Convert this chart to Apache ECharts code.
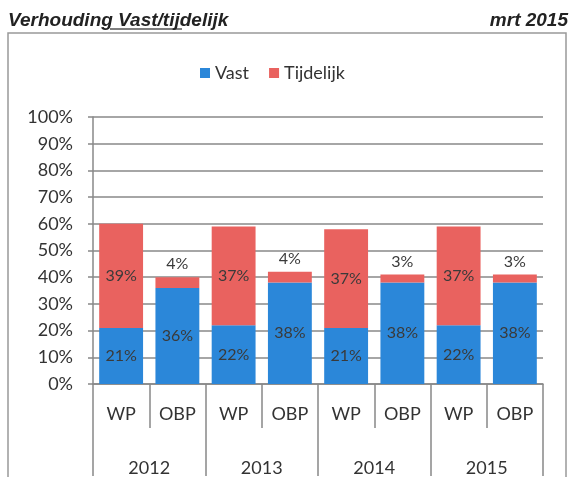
<!DOCTYPE html>
<html>
<head>
<meta charset="utf-8">
<script src="https://cdn.jsdelivr.net/npm/echarts@6/dist/echarts.min.js"></script>
<style>
  html, body { margin: 0; padding: 0; background: #fff; }
  #main { width: 571px; height: 477px; }
</style>
</head>
<body>
<div id="main"></div>
<script>
// data
var groups = ['WP', 'OBP', 'WP', 'OBP', 'WP', 'OBP', 'WP', 'OBP'];
var years = ['2012', '2013', '2014', '2015'];
var vast = [21, 36, 22, 38, 21, 38, 22, 38];
var tijdelijk = [39, 4, 37, 4, 37, 3, 37, 3];
var yTicks = [0, 10, 20, 30, 40, 50, 60, 70, 80, 90, 100];

var chart = echarts.init(document.getElementById('main'));

var font = 'Lato';
var labelStyle = {
  show: true,
  formatter: '{c}%',
  color: '#3a3a3a',
  fontFamily: font,
  fontSize: 16
};
var headStyle = {
  fontFamily: 'Liberation Sans',
  fontStyle: 'italic',
  fontWeight: 'bold',
  fontSize: 19,
  color: '#222'
};

var option = {
  backgroundColor: '#fff',
  animation: false,
  title: [{
    text: 'Verhouding Vast/tijdelijk',
    left: 3,
    top: 6,
    textStyle: headStyle
  }, {
    text: 'mrt 2015',
    right: -2,
    top: 6,
    textStyle: headStyle
  }],
  graphic: [{
    type: 'rect',
    shape: { x: 8, y: 33, width: 558, height: 460 },
    style: { fill: 'none', stroke: '#999', lineWidth: 1.5 },
    silent: true
  }, {
    type: 'line',
    shape: { x1: 110, y1: 29, x2: 182, y2: 29 },
    style: { stroke: '#555', lineWidth: 1.5 }
  }],
  legend: {
    data: ['Vast', 'Tijdelijk'],
    top: 59,
    left: 195,
    itemWidth: 10,
    itemHeight: 10,
    itemGap: 20,
    icon: 'rect',
    textStyle: { fontFamily: font, fontSize: 18, color: '#333' }
  },
  grid: {
    left: 93,
    right: 28,
    top: 117,
    bottom: 92
  },
  xAxis: [{
    type: 'category',
    data: groups,
    position: 'bottom',
    axisLine: { lineStyle: { color: '#888', width: 1.5 } },
    axisTick: { show: true, length: 44, lineStyle: { color: '#888', width: 1.5 } },
    axisLabel: { margin: 21, color: '#333', fontFamily: font, fontSize: 18 }
  }, {
    type: 'category',
    data: years,
    position: 'bottom',
    axisLine: { show: false },
    axisTick: { show: true, length: 92, lineStyle: { color: '#888', width: 1.5 } },
    axisLabel: { margin: 75, color: '#333', fontFamily: font, fontSize: 18 }
  }],
  yAxis: {
    type: 'value',
    min: yTicks[0],
    max: yTicks[yTicks.length - 1],
    interval: 10,
    axisLine: { show: true, lineStyle: { color: '#888', width: 1.5 } },
    axisTick: { show: true, length: 5, lineStyle: { color: '#888', width: 1.5 } },
    splitLine: { lineStyle: { color: '#888', width: 1.5 } },
    axisLabel: {
      formatter: '{value}%',
      margin: 20,
      color: '#333',
      fontFamily: font,
      fontSize: 18
    }
  },
  series: [{
    name: 'Vast',
    type: 'bar',
    stack: 'total',
    barWidth: '78%',
    xAxisIndex: 0,
    itemStyle: { color: '#2b87d9' },
    label: Object.assign({ position: 'inside' }, labelStyle),
    data: vast
  }, {
    name: 'Tijdelijk',
    type: 'bar',
    stack: 'total',
    xAxisIndex: 0,
    itemStyle: { color: '#e9625f' },
    label: labelStyle,
    data: tijdelijk.map(function (v) {
      return { value: v, label: { position: v < 10 ? 'top' : 'inside' } };
    })
  }]
};

chart.setOption(option);
</script>
</body>
</html>
